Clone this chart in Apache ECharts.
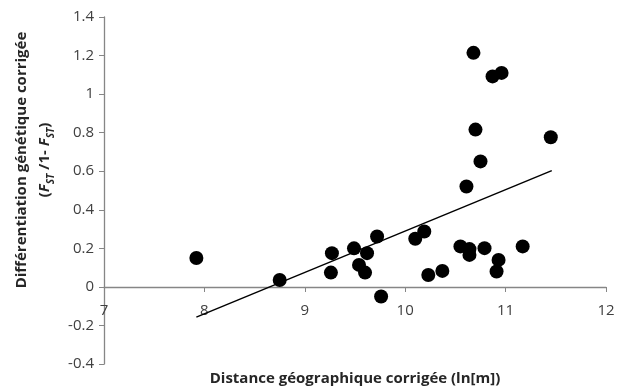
<!DOCTYPE html>
<html>
<head>
<meta charset="utf-8">
<script src="https://cdn.jsdelivr.net/npm/echarts@6/dist/echarts.min.js"></script>
<style>
  html, body { margin: 0; padding: 0; background: #fff; }
  #main { width: 624px; height: 389px; }
</style>
</head>
<body>
<div id="main"></div>
<script>
// distance (ln[m]) et FST/(1-FST)
var distance = [7.92, 8.75, 9.27, 9.26, 9.49, 9.62, 9.54, 9.60, 9.72, 9.76, 10.10, 10.19,
  10.68, 10.87, 10.96, 10.70, 11.45, 10.75, 10.61, 10.55, 10.64, 10.64, 10.79, 11.17,
  10.93, 10.91, 10.23, 10.37];
var fst = [0.15, 0.036, 0.175, 0.074, 0.20, 0.175, 0.114, 0.074, 0.261, -0.05, 0.25, 0.287,
  1.214, 1.092, 1.11, 0.816, 0.776, 0.651, 0.521, 0.21, 0.196, 0.166, 0.201, 0.21,
  0.14, 0.08, 0.062, 0.083];
// droite de tendance (extrémités)
var trendX = [7.92, 11.46];
var trendY = [-0.157, 0.603];

var points = distance.map(function (d, i) { return [d, fst[i]]; });
var trend = trendX.map(function (d, i) { return [d, trendY[i]]; });

var font = 'Open Sans';
var titleColor = '#262626';
function tok(size, italic) {
  return { fontSize: size, fontWeight: 'bold', fontStyle: italic ? 'italic' : 'normal',
    fill: titleColor, color: titleColor, fontFamily: font };
}

var myChart = echarts.init(document.getElementById('main'));
myChart.setOption({
  animation: false,
  grid: { left: 104, right: 18, top: 17, bottom: 25, containLabel: false, outerBoundsMode: 'none' },
  xAxis: {
    type: 'value', min: 7, max: 12, interval: 1,
    offset: -77,
    axisLine: { onZero: false, lineStyle: { color: '#868686', width: 1.3 } },
    axisTick: { show: true, length: 5, lineStyle: { color: '#868686' } },
    axisLabel: { color: '#404040', fontSize: 15, fontFamily: font, margin: 16 },
    splitLine: { show: false },
    name: 'Distance géographique corrigée (ln[m])',
    nameLocation: 'middle', nameGap: 84, nameMoveOverlap: false,
    nameTextStyle: { color: titleColor, fontSize: 15, fontWeight: 'bold', fontFamily: font }
  },
  yAxis: {
    type: 'value', min: -0.4, max: 1.4, interval: 0.2,
    axisLine: { show: true, lineStyle: { color: '#868686', width: 1.3 } },
    axisTick: { show: true, length: 5, lineStyle: { color: '#868686' } },
    axisLabel: {
      color: '#404040', fontSize: 15, fontFamily: font, margin: 10,
      formatter: function (v) { return String(Math.round(v * 10) / 10); }
    },
    splitLine: { show: false }
  },
  graphic: [
    {
      type: 'text', x: 22, y: 160, rotation: Math.PI / 2,
      style: {
        text: 'Différentiation génétique corrigée',
        fontSize: 15, fontWeight: 'bold', fontFamily: font, fill: titleColor,
        align: 'center', verticalAlign: 'middle'
      }
    },
    {
      type: 'text', x: 45, y: 160, rotation: Math.PI / 2,
      style: {
        text: '{b|(}{f|F}{s|ST}{b| /1- }{f|F}{s|ST}{b|)}',
        align: 'center', verticalAlign: 'middle',
        rich: {
          b: Object.assign(tok(15, false), { lineHeight: 22 }),
          f: Object.assign(tok(15, true), { lineHeight: 22 }),
          s: Object.assign(tok(10, true), { lineHeight: 22, verticalAlign: 'bottom', padding: [6, 0, 0, 0] })
        }
      }
    }
  ],
  series: [
    {
      type: 'scatter', data: points, symbol: 'circle', symbolSize: 14,
      itemStyle: { color: '#000', opacity: 1 }, z: 3
    },
    {
      type: 'line', data: trend, showSymbol: false, symbol: 'none',
      lineStyle: { color: '#000', width: 1.5 }, z: 2
    }
  ]
});
</script>
</body>
</html>
